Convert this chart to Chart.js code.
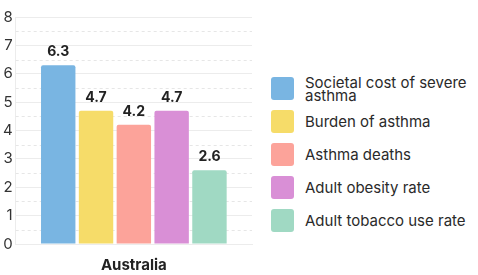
<!DOCTYPE html>
<html lang="en">
<head>
    <meta charset="UTF-8">
    <title>Asthma indicators - Australia</title>
    <script src="https://cdn.jsdelivr.net/npm/chart.js"></script>
    <style>
        body { margin: 0; background: #fff; font-family: Inter, sans-serif; }
        .wrap { position: relative; width: 478px; height: 275px; }
        .chart-box { position: absolute; left: 0; top: 0; width: 253px; height: 275px; }
        .legend { position: absolute; left: 271px; top: 72px; }
        .legend-item { display: flex; align-items: center; height: 33px; }
        .legend-item .sw { width: 23px; height: 23px; border-radius: 3px; flex: none; }
        .legend-item .lbl { margin-left: 11px; font-size: 15px; line-height: 13px; color: #2a2a2a; width: 175px; }
    </style>
</head>
<body>
<div class="wrap">
    <div class="chart-box"><canvas id="chart"></canvas></div>
    <div class="legend" id="legend"></div>
</div>
<script>
// data
const categories = ['Australia'];
const seriesNames = ['Societal cost of severe asthma', 'Burden of asthma', 'Asthma deaths', 'Adult obesity rate', 'Adult tobacco use rate'];
const seriesValues = [[6.3], [4.7], [4.2], [4.7], [2.6]];
const seriesColors = ['#79b5e2', '#f6dc69', '#fca39a', '#d98fd6', '#a0d9c3'];
const yTicks = [0, 1, 2, 3, 4, 5, 6, 7, 8];

// value labels above each bar
const valueLabels = {
    id: 'valueLabels',
    afterDatasetsDraw(chart) {
        const ctx = chart.ctx;
        ctx.save();
        ctx.font = 'bold 14px Inter, sans-serif';
        ctx.fillStyle = '#222';
        ctx.textAlign = 'center';
        ctx.textBaseline = 'bottom';
        chart.data.datasets.forEach((ds, i) => {
            chart.getDatasetMeta(i).data.forEach((bar, j) => {
                ctx.fillText(ds.data[j].toFixed(1), bar.x, bar.y - 6);
            });
        });
        ctx.restore();
    }
};

// dashed half-step grid lines
const halfGrid = {
    id: 'halfGrid',
    beforeDatasetsDraw(chart) {
        const y = chart.scales.y, a = chart.chartArea, ctx = chart.ctx;
        ctx.save();
        ctx.strokeStyle = '#e6e6e6';
        ctx.lineWidth = 1;
        ctx.setLineDash([3, 3]);
        for (let v = 0.5; v < 8; v += 1) {
            const py = Math.round(y.getPixelForValue(v)) + 0.5;
            ctx.beginPath();
            ctx.moveTo(a.left, py);
            ctx.lineTo(a.right, py);
            ctx.stroke();
        }
        ctx.restore();
    }
};

new Chart(document.getElementById('chart'), {
    type: 'bar',
    data: {
        labels: categories,
        datasets: seriesNames.map((name, i) => ({
            label: name,
            data: seriesValues[i],
            backgroundColor: seriesColors[i],
            borderRadius: 2,
            barPercentage: 0.91,
            categoryPercentage: 0.8
        }))
    },
    options: {
        responsive: true,
        maintainAspectRatio: false,
        animation: false,
        layout: { padding: { left: 0, right: 1, top: 17, bottom: -11 } },
        plugins: { legend: { display: false }, tooltip: { enabled: false } },
        scales: {
            x: {
                grid: { display: false, drawTicks: false },
                border: { display: true, color: '#ececec' },
                ticks: { color: '#222', padding: 12, font: { family: 'Inter, sans-serif', size: 15, weight: 'bold' } }
            },
            y: {
                min: 0, max: 8,
                afterBuildTicks: s => { s.ticks = yTicks.map(v => ({ value: v })); },
                grid: { color: '#ececec', drawTicks: false },
                border: { display: true, color: '#ececec' },
                ticks: { color: '#333', padding: 3, font: { family: 'Inter, sans-serif', size: 15 } }
            }
        }
    },
    plugins: [halfGrid, valueLabels]
});

// legend built from the same arrays
const legend = document.getElementById('legend');
seriesNames.forEach((name, i) => {
    legend.insertAdjacentHTML('beforeend',
        `<div class="legend-item"><span class="sw" style="background:${seriesColors[i]}"></span><span class="lbl">${name}</span></div>`);
});
</script>
</body>
</html>
